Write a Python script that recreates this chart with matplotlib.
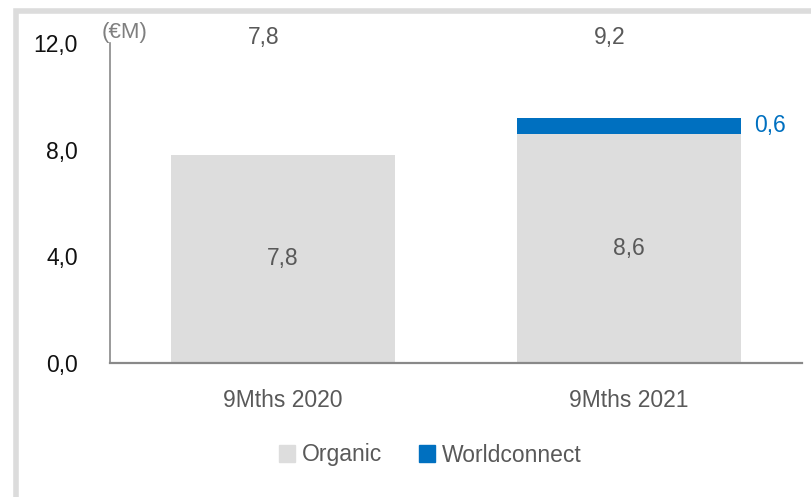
import matplotlib.pyplot as plt
from matplotlib.patches import Rectangle, Patch

plt.rcParams['font.family'] = ['Liberation Sans', 'DejaVu Sans']

# data
periods = ['9Mths 2020', '9Mths 2021']
organic = [7.8, 8.6]
worldconnect = [0.0, 0.6]
totals = [7.8, 9.2]
yticks = [0, 4, 8, 12]

grey_bar = '#DDDDDD'
blue = '#0070C0'
text_grey = '#595959'
spine_grey = '#898989'
fs = 16.5

fig = plt.figure(figsize=(8.12, 4.97), dpi=100)
ax = fig.add_axes([110 / 812, 134 / 497, 692 / 812, 320 / 497])

x = list(range(len(periods)))
w = 0.645
ax.bar(x, organic, width=w, color=grey_bar, zorder=2)
ax.bar(x, worldconnect, width=w, bottom=organic, color=blue, zorder=2)

ax.set_xlim(-0.5, 1.5)
ax.set_ylim(0, 12)

# segment labels
for i in x:
    ax.text(i, organic[i] / 2, f'{organic[i]:.1f}'.replace('.', ','),
            ha='center', va='center', fontsize=fs, color=text_grey)
    ax.text(i - 0.055, 12.2, f'{totals[i]:.1f}'.replace('.', ','),
            ha='center', va='center', fontsize=fs, color=text_grey, clip_on=False)
    if worldconnect[i] > 0:
        ax.text(i + w / 2 + 0.04, organic[i] + worldconnect[i] / 2,
                f'{worldconnect[i]:.1f}'.replace('.', ','),
                ha='left', va='center', fontsize=fs, color=blue, clip_on=False)

ax.text(-0.523, 12.38, '(€M)', ha='left', va='center', fontsize=16,
        color='#7F7F7F', clip_on=False)

ax.set_xticks(x)
ax.set_xticklabels(periods, fontsize=fs, color=text_grey)
ax.set_yticks(yticks)
ax.set_yticklabels([f'{v:.1f}'.replace('.', ',') for v in yticks], fontsize=fs, color='#111111')
ax.tick_params(axis='both', length=0)
ax.tick_params(axis='y', pad=23)
ax.tick_params(axis='x', pad=19)

for s in ['top', 'right']:
    ax.spines[s].set_visible(False)
ax.spines['left'].set_color(spine_grey)
ax.spines['left'].set_linewidth(1.2)
ax.spines['bottom'].set_color(spine_grey)
ax.spines['bottom'].set_linewidth(1.6)

handles = [Patch(color=grey_bar, label='Organic'), Patch(color=blue, label='Worldconnect')]
fig.legend(handles=handles, loc='center', bbox_to_anchor=(430 / 812, 1 - 455 / 497),
           ncol=2, frameon=False, fontsize=fs, labelcolor=text_grey,
           handlelength=0.7, handleheight=0.7, handletextpad=0.3, columnspacing=1.6)

# outer light frame
fig.patches.append(Rectangle((16.5 / 812, -0.1), 1.2, 1 - 10.5 / 497 + 0.1,
                             transform=fig.transFigure, fill=False,
                             edgecolor='#DCDCDC', linewidth=4, clip_on=False))

fig.savefig('out.png', dpi=100)
